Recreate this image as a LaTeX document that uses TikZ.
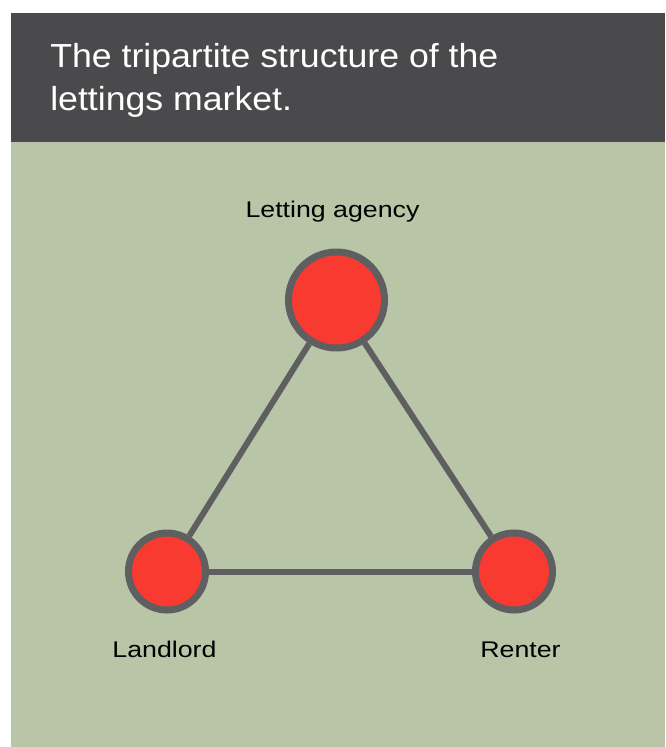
\documentclass[tikz,border=0pt]{standalone}
\usepackage{fontspec}
\setmainfont{Liberation Sans}
\newfontfamily\titlefont[FakeStretch=1.07]{Liberation Sans}
\newfontfamily\labelfont[FakeStretch=1.18]{Liberation Sans}
\usepackage{xcolor}
\definecolor{panel}{HTML}{B8C6A7}
\definecolor{banner}{HTML}{4A4A4C}
\definecolor{party}{HTML}{F93A31}
\definecolor{rim}{HTML}{5F5F61}

\tikzset{
	party/.style={circle, draw=rim, fill=party, line width=5.25pt, inner sep=0pt},
	tie/.style={draw=rim, line width=4.5pt},
	lbl/.style={anchor=base, inner sep=0pt, font=\labelfont\fontsize{17}{20}\selectfont},
}

\begin{document}
\begin{tikzpicture}[x=0.75pt,y=0.75pt,yscale=-1,xscale=1]
	\useasboundingbox (0,0) rectangle (665,747);
	% banner and panel
	\fill [banner] (11,13) rectangle (665,142);
	\fill [panel] (11,142) rectangle (665,747);
	\node (title) [anchor=base west, inner sep=0pt, text=white, align=left, font=\titlefont\fontsize{25}{32.25}\selectfont] at (50,110) {The tripartite structure of the\\lettings market.};
	% the three parties
	\node (agency) [party, minimum size=72pt] at (336.5,300) {};
	\node (landlord) [party, minimum size=57.75pt] at (167,571.5) {};
	\node (renter) [party, minimum size=57.75pt] at (514,571.5) {};
	\draw [tie] (agency) -- (landlord);
	\draw [tie] (agency) -- (renter);
	\draw [tie] (landlord) -- (renter);
	\node (agencylbl) [lbl] at (332.5,217) {Letting agency};
	\node (landlordlbl) [lbl] at (164.5,657) {Landlord};
	\node (renterlbl) [lbl] at (520.5,657) {Renter};
\end{tikzpicture}
\end{document}
